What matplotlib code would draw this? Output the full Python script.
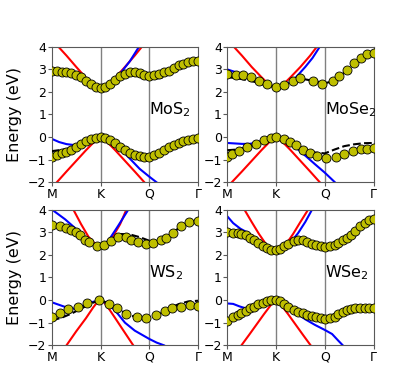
import numpy as np
import matplotlib.pyplot as plt

k_ticks = [0, 1, 2, 3]
k_labels = ['M', 'K', 'Q', 'Γ']

# ---------------- MoS2 ----------------
mos2_k = np.linspace(0, 3, 31)
mos2_cb = [2.92, 2.91, 2.89, 2.87, 2.84, 2.76, 2.65, 2.50, 2.35, 2.23, 2.17,
           2.23, 2.34, 2.51, 2.68, 2.79, 2.86, 2.88, 2.84, 2.76, 2.72,
           2.73, 2.78, 2.86, 2.94, 3.07, 3.17, 3.24, 3.31, 3.36, 3.38]
mos2_vb = [-0.88, -0.80, -0.72, -0.65, -0.56, -0.44, -0.30, -0.17, -0.07, -0.02, 0.0,
           -0.04, -0.13, -0.28, -0.43, -0.58, -0.70, -0.78, -0.84, -0.88, -0.87,
           -0.80, -0.69, -0.56, -0.44, -0.34, -0.26, -0.19, -0.14, -0.10, -0.05]
mos2_dash_k = [0, 0.25, 0.5, 0.75, 1.0, 1.25, 1.5, 1.75, 2.0, 2.25, 2.5, 2.75, 3.0]
mos2_dash_cb = [2.88, 2.84, 2.70, 2.38, 2.17, 2.40, 2.72, 2.70, 2.55, 2.62, 3.0, 3.28, 3.38]
mos2_dash_vb = [-0.62, -0.55, -0.42, -0.12, 0.0, -0.2, -0.58, -0.80, -0.86, -0.62, -0.34, -0.16, -0.05]
mos2_red_cb_k = [0.13, 0.3, 0.5, 0.7, 0.85, 1.0, 1.15, 1.3, 1.5, 1.7, 1.85]
mos2_red_cb = [4.0, 3.6, 3.1, 2.62, 2.32, 2.17, 2.32, 2.62, 3.1, 3.6, 4.0]
mos2_blue_cb_k = [0, 0.2, 0.4, 0.6, 0.8, 1.0, 1.2, 1.4, 1.6, 1.79]
mos2_blue_cb = [3.05, 2.95, 2.8, 2.6, 2.35, 2.17, 2.35, 2.8, 3.35, 4.0]
mos2_red_vb_k = [0.1, 0.3, 0.5, 0.7, 0.85, 1.0, 1.15, 1.3, 1.5, 1.7, 1.9]
mos2_red_vb = [-2.0, -1.52, -1.05, -0.58, -0.25, 0.0, -0.25, -0.58, -1.05, -1.52, -2.0]
mos2_blue_vb_k = [0, 0.15, 0.3, 0.45, 0.6, 0.8, 1.0, 1.2, 1.4, 1.6, 1.8, 2.0, 2.15]
mos2_blue_vb = [-0.08, -0.22, -0.31, -0.35, -0.30, -0.1, 0.0, -0.15, -0.5, -0.95, -1.4, -1.75, -2.0]

# ---------------- MoSe2 ----------------
mose2_cb_k = [0.0, 0.17, 0.33, 0.49, 0.66, 0.81, 1.0, 1.17, 1.34, 1.49, 1.75, 1.94,
              2.16, 2.3, 2.45, 2.6, 2.75, 2.86, 3.0]
mose2_cb = [2.77, 2.76, 2.76, 2.67, 2.49, 2.33, 2.2, 2.28, 2.49, 2.6, 2.46, 2.36,
            2.49, 2.68, 2.97, 3.29, 3.49, 3.65, 3.7]
mose2_vb_k = [0.0, 0.09, 0.23, 0.40, 0.59, 0.75, 0.9, 1.0, 1.16, 1.29, 1.41, 1.55, 1.7,
              1.85, 2.03, 2.23, 2.4, 2.58, 2.74, 2.86, 3.0]
mose2_vb = [-0.86, -0.73, -0.6, -0.45, -0.3, -0.12, -0.02, 0.02, -0.07, -0.23, -0.37,
            -0.55, -0.7, -0.84, -0.93, -0.86, -0.75, -0.61, -0.54, -0.51, -0.5]
mose2_dash_k = [0, 0.2, 0.4, 0.6, 0.8, 1.0, 1.2, 1.4, 1.6, 1.8, 2.0, 2.2, 2.4, 2.6, 2.8, 3.0]
mose2_dash_cb = [2.65, 2.6, 2.52, 2.42, 2.28, 2.2, 2.3, 2.48, 2.55, 2.47, 2.38, 2.48,
                 2.85, 3.28, 3.56, 3.68]
mose2_dash_vb = [-0.58, -0.55, -0.45, -0.3, -0.1, 0.0, -0.12, -0.35, -0.55, -0.68, -0.72,
                 -0.55, -0.4, -0.32, -0.27, -0.26]
mose2_red_cb_k = [0.13, 0.3, 0.5, 0.7, 0.85, 1.0, 1.15, 1.3, 1.5, 1.7, 1.84]
mose2_red_cb = [4.0, 3.6, 3.1, 2.65, 2.33, 2.2, 2.33, 2.65, 3.1, 3.6, 4.0]
mose2_blue_cb_k = [0, 0.2, 0.4, 0.6, 0.8, 1.0, 1.2, 1.4, 1.6, 1.75, 1.9]
mose2_blue_cb = [2.99, 2.85, 2.68, 2.5, 2.32, 2.2, 2.3, 2.62, 3.1, 3.5, 4.0]
mose2_red_vb_k = [0.09, 0.3, 0.5, 0.7, 0.85, 1.0, 1.15, 1.3, 1.5, 1.7, 1.9]
mose2_red_vb = [-2.0, -1.52, -1.05, -0.58, -0.25, 0.0, -0.25, -0.58, -1.05, -1.52, -2.0]
mose2_blue_vb_k = [0, 0.15, 0.3, 0.45, 0.6, 0.8, 1.0, 1.2, 1.4, 1.6, 1.8, 2.0, 2.21]
mose2_blue_vb = [-0.26, -0.28, -0.3, -0.3, -0.25, -0.1, 0.0, -0.12, -0.45, -0.82, -1.2, -1.57, -2.0]

# ---------------- WS2 ----------------
ws2_cb_k = [0.0, 0.16, 0.29, 0.40, 0.50, 0.58, 0.68, 0.77, 0.92, 1.06, 1.21, 1.36, 1.52,
            1.63, 1.77, 1.93, 2.08, 2.24, 2.35, 2.49, 2.66, 2.81, 3.0]
ws2_cb = [3.33, 3.29, 3.19, 3.11, 2.99, 2.86, 2.67, 2.55, 2.40, 2.44, 2.59, 2.77, 2.77,
          2.67, 2.55, 2.47, 2.52, 2.64, 2.74, 2.96, 3.26, 3.44, 3.48]
ws2_vb_k = [0.0, 0.17, 0.34, 0.53, 0.73, 0.97, 1.18, 1.34, 1.53, 1.74, 1.93, 2.13, 2.32,
            2.47, 2.66, 2.83, 3.0]
ws2_vb = [-0.74, -0.59, -0.41, -0.30, -0.12, 0.01, -0.16, -0.37, -0.62, -0.77, -0.79,
          -0.67, -0.49, -0.37, -0.30, -0.22, -0.27]
ws2_dash_cb_k = [0, 0.25, 0.5, 0.75, 0.9, 1.0, 1.1, 1.25, 1.4, 1.6, 1.8, 2.0, 2.2, 2.4,
                 2.6, 2.8, 3.0]
ws2_dash_cb = [3.3, 3.15, 2.98, 2.6, 2.42, 2.38, 2.45, 2.72, 2.92, 2.9, 2.78, 2.62, 2.6,
               2.82, 3.18, 3.43, 3.5]
ws2_dash_vb_k = [0, 0.2, 0.4, 0.6, 0.8, 1.0, 1.2, 1.4, 1.6, 1.8, 2.0, 2.2, 2.4, 2.6, 2.8, 3.0]
ws2_dash_vb = [-0.9, -0.78, -0.6, -0.38, -0.15, 0.0, -0.18, -0.45, -0.68, -0.78, -0.75,
               -0.6, -0.38, -0.18, -0.06, -0.03]
ws2_red_cb_k = [0.44, 0.6, 0.75, 0.9, 1.0, 1.1, 1.25, 1.4, 1.53]
ws2_red_cb = [4.0, 3.35, 2.8, 2.45, 2.38, 2.45, 2.8, 3.35, 4.0]
ws2_blue_cb_k = [0, 0.27, 0.54, 0.75, 0.88, 1.0, 1.16, 1.36, 1.57]
ws2_blue_cb = [4.0, 3.57, 3.06, 2.65, 2.45, 2.38, 2.62, 3.28, 4.0]
ws2_red_vb_k = [0.3, 0.5, 0.7, 0.85, 0.93, 1.0, 1.07, 1.15, 1.3, 1.5, 1.67]
ws2_red_vb = [-2.0, -1.38, -0.8, -0.32, -0.1, 0.0, -0.1, -0.32, -0.8, -1.45, -2.0]
ws2_blue_vb_k = [0, 0.2, 0.4, 0.6, 0.8, 1.0, 1.2, 1.35, 1.5, 1.7, 2.0, 2.15, 2.3]
ws2_blue_vb = [-0.1, -0.25, -0.4, -0.3, -0.1, 0.0, -0.25, -0.6, -1.0, -1.35, -1.72, -1.88, -2.0]

# ---------------- WSe2 ----------------
wse2_k = [0.0, 0.12, 0.21, 0.29, 0.38, 0.47, 0.55, 0.64, 0.73, 0.81, 0.90, 1.0, 1.08,
          1.17, 1.25, 1.36, 1.46, 1.56, 1.64, 1.73, 1.82, 1.92, 2.01, 2.11, 2.20, 2.28,
          2.37, 2.45, 2.54, 2.62, 2.73, 2.82, 2.90, 3.0]
wse2_cb = [3.0, 2.98, 2.96, 2.93, 2.86, 2.74, 2.64, 2.52, 2.40, 2.30, 2.22, 2.19, 2.27,
           2.37, 2.47, 2.59, 2.67, 2.64, 2.56, 2.49, 2.43, 2.37, 2.33, 2.37, 2.44, 2.52,
           2.64, 2.74, 2.89, 3.04, 3.26, 3.41, 3.53, 3.6]
wse2_vb = [-0.92, -0.76, -0.65, -0.56, -0.47, -0.37, -0.30, -0.19, -0.12, -0.05, -0.01,
           0.01, -0.05, -0.17, -0.30, -0.42, -0.51, -0.59, -0.65, -0.70, -0.74, -0.79,
           -0.82, -0.80, -0.73, -0.62, -0.52, -0.44, -0.38, -0.35, -0.34, -0.34, -0.35, -0.35]
wse2_red_cb_k = [0.35, 0.5, 0.65, 0.8, 0.9, 1.0, 1.1, 1.2, 1.35, 1.5, 1.66]
wse2_red_cb = [4.0, 3.45, 2.92, 2.45, 2.27, 2.2, 2.27, 2.45, 2.92, 3.45, 4.0]
wse2_blue_cb_k = [0, 0.12, 0.27, 0.4, 0.55, 0.7, 0.85, 1.0, 1.15, 1.3, 1.45, 1.6, 1.74]
wse2_blue_cb = [3.7, 3.4, 3.15, 3.0, 2.75, 2.5, 2.3, 2.2, 2.3, 2.55, 2.95, 3.45, 4.0]
wse2_red_vb_k = [0.29, 0.45, 0.6, 0.75, 0.9, 1.0, 1.1, 1.25, 1.4, 1.55, 1.71]
wse2_red_vb = [-2.0, -1.53, -1.08, -0.63, -0.2, 0.0, -0.2, -0.63, -1.08, -1.53, -2.0]
wse2_blue_vb_k = [0, 0.12, 0.25, 0.4, 0.55, 0.7, 0.85, 1.0, 1.15, 1.3, 1.45, 1.6, 1.8,
                  2.0, 2.15, 2.28, 2.37]
wse2_blue_vb = [-0.15, -0.17, -0.28, -0.38, -0.35, -0.22, -0.07, 0.0, -0.1, -0.35, -0.62,
                -0.85, -1.1, -1.32, -1.5, -1.8, -2.0]


def draw_fits(ax, red_c, blue_c, red_v, blue_v):
    """lineas de ajuste rojas y azules"""
    for (kx, e), col in [(red_c, 'red'), (blue_c, 'blue'), (red_v, 'red'), (blue_v, 'blue')]:
        ax.plot(kx, e, color=col, lw=1.5, zorder=2)


def draw_dash(ax, kx, e):
    ax.plot(kx, e, '--', color='k', lw=1.5, zorder=3)


def draw_dots(ax, kx, e):
    ax.plot(kx, e, 'o', color='y', mec='k', mew=0.6, ms=6.5, zorder=4)


def setup(ax, name, ylabel=False):
    ax.set_xlim(0, 3)
    ax.set_ylim(-2, 4)
    ax.set_xticks(k_ticks)
    ax.set_xticklabels(k_labels)
    ax.set_yticks(range(-2, 5))
    for k in [1, 2]:
        ax.axvline(k, color='grey', lw=1, zorder=1)
    for s in ax.spines.values():
        s.set_color('0.35')
    ax.tick_params(labelsize=9, length=3, pad=1, color='0.35')
    ax.text(2.0, 1.0, name, fontsize=11.5)
    if ylabel:
        ax.set_ylabel('Energy (eV)', fontsize=11.5)


fig, axs = plt.subplots(2, 2, figsize=(4.15, 3.88), dpi=100)

ax = axs[0, 0]
draw_fits(ax, (mos2_red_cb_k, mos2_red_cb), (mos2_blue_cb_k, mos2_blue_cb),
          (mos2_red_vb_k, mos2_red_vb), (mos2_blue_vb_k, mos2_blue_vb))
draw_dash(ax, mos2_dash_k, mos2_dash_cb)
draw_dash(ax, mos2_dash_k, mos2_dash_vb)
draw_dots(ax, mos2_k, mos2_cb)
draw_dots(ax, mos2_k, mos2_vb)
setup(ax, 'MoS$_2$', ylabel=True)

ax = axs[0, 1]
draw_fits(ax, (mose2_red_cb_k, mose2_red_cb), (mose2_blue_cb_k, mose2_blue_cb),
          (mose2_red_vb_k, mose2_red_vb), (mose2_blue_vb_k, mose2_blue_vb))
draw_dash(ax, mose2_dash_k, mose2_dash_cb)
draw_dash(ax, mose2_dash_k, mose2_dash_vb)
draw_dots(ax, mose2_cb_k, mose2_cb)
draw_dots(ax, mose2_vb_k, mose2_vb)
setup(ax, 'MoSe$_2$')

ax = axs[1, 0]
draw_fits(ax, (ws2_red_cb_k, ws2_red_cb), (ws2_blue_cb_k, ws2_blue_cb),
          (ws2_red_vb_k, ws2_red_vb), (ws2_blue_vb_k, ws2_blue_vb))
draw_dash(ax, ws2_dash_cb_k, ws2_dash_cb)
draw_dash(ax, ws2_dash_vb_k, ws2_dash_vb)
draw_dots(ax, ws2_cb_k, ws2_cb)
draw_dots(ax, ws2_vb_k, ws2_vb)
setup(ax, 'WS$_2$', ylabel=True)

ax = axs[1, 1]
draw_fits(ax, (wse2_red_cb_k, wse2_red_cb), (wse2_blue_cb_k, wse2_blue_cb),
          (wse2_red_vb_k, wse2_red_vb), (wse2_blue_vb_k, wse2_blue_vb))
draw_dots(ax, wse2_k, wse2_cb)
draw_dots(ax, wse2_k, wse2_vb)
setup(ax, 'WSe$_2$')

plt.savefig('out.png', dpi=100)
